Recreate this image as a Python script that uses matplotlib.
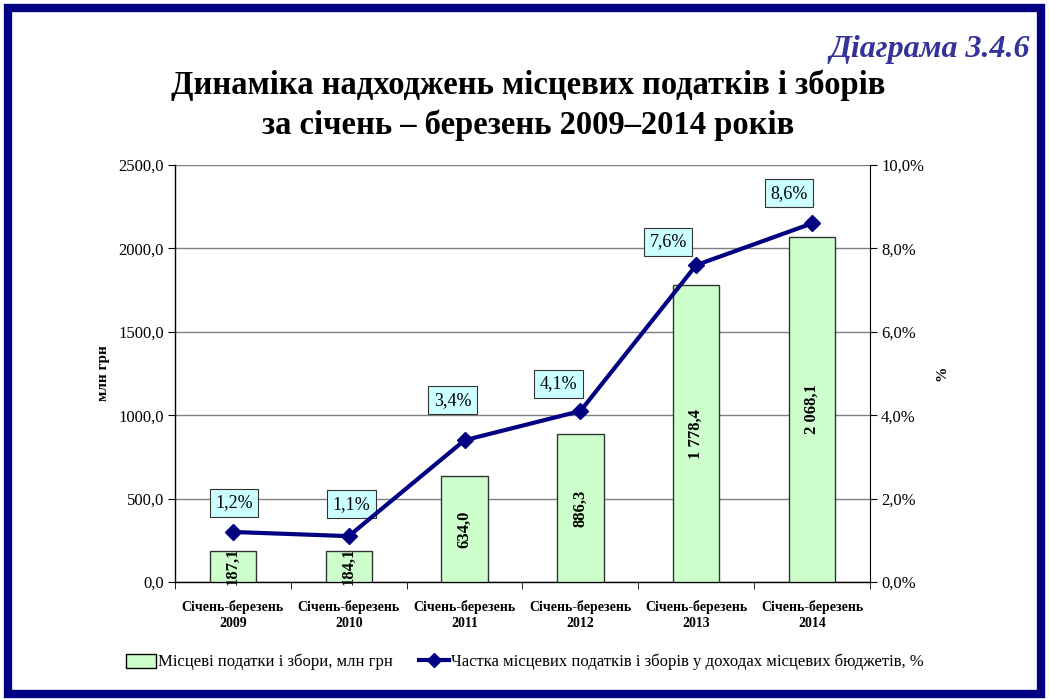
import matplotlib
matplotlib.use("Agg")
import matplotlib.pyplot as plt
from matplotlib.patches import Rectangle
from matplotlib.lines import Line2D
import numpy as np

categories = ["Січень-березень\n2009", "Січень-березень\n2010", "Січень-березень\n2011",
              "Січень-березень\n2012", "Січень-березень\n2013", "Січень-березень\n2014"]
amounts = [187.1, 184.1, 634.0, 886.3, 1778.4, 2068.1]
amount_labels = ["187,1", "184,1", "634,0", "886,3", "1 778,4", "2 068,1"]
shares = [1.2, 1.1, 3.4, 4.1, 7.6, 8.6]
left_ticks = [0, 500, 1000, 1500, 2000, 2500]
right_ticks = [0, 2, 4, 6, 8, 10]

# manual label offsets (pixels), styling only
label_dx = [1, 3, -12, -22, -28, -23]
label_dy = [29, 32, 40, 27, 23, 30]

plt.rcParams['font.family'] = ['Liberation Serif', 'DejaVu Serif']

W, H = 1050, 699
fig = plt.figure(figsize=(W / 100, H / 100), dpi=100)

# frame
fig.patches.append(Rectangle((8 / W, 5 / H), 1033 / W, 686 / H, transform=fig.transFigure,
                             fill=False, edgecolor='#000080', linewidth=6))

ax = fig.add_axes([175 / W, (H - 582) / H, 695 / W, 417 / H])
ax2 = ax.twinx()

x = np.arange(len(categories))
ax.bar(x, amounts, width=0.4, color='#CCFFCC', edgecolor='#333333', linewidth=1, zorder=3)
for xi, v, lab in zip(x, amounts, amount_labels):
    ax.text(xi, v / 2, lab, rotation=90, ha='center', va='center', fontsize=12,
            fontweight='bold', zorder=4)

ax.set_xlim(-0.5, len(categories) - 0.5)
ax.set_ylim(0, 2500)
ax.set_yticks(left_ticks)
ax.set_yticklabels([f"{t:.1f}".replace('.', ',') for t in left_ticks], fontsize=12)
ax.yaxis.grid(True, color='#808080', linewidth=1, zorder=0)
ax.set_axisbelow(True)
ax.set_xticks(x)
ax.set_xticklabels(categories, fontsize=10, fontweight='bold', linespacing=1.3)
ax.set_xticks(np.arange(len(categories) + 1) - 0.5, minor=True)
ax.tick_params(axis='x', which='major', length=0, pad=13)
ax.tick_params(axis='x', which='minor', length=5, direction='out')
ax.tick_params(axis='y', length=5, direction='out', pad=3)
ax.spines['top'].set_visible(False)
ax.spines['right'].set_visible(False)
ax.spines['left'].set_linewidth(1)
ax.spines['bottom'].set_linewidth(1)
ax.set_ylabel("млн грн", fontsize=11, fontweight='bold', labelpad=6)

ax2.plot(x, shares, color='#000080', linewidth=3, marker='D', markersize=8, zorder=5)
ax2.set_ylim(0, 10)
ax2.set_yticks(right_ticks)
ax2.set_yticklabels([f"{t:.1f}%".replace('.', ',') for t in right_ticks], fontsize=12)
ax2.tick_params(axis='y', length=5, direction='out', pad=3)
ax2.spines['top'].set_visible(False)
ax2.spines['left'].set_visible(False)
ax2.spines['bottom'].set_visible(False)
ax2.set_ylabel("%", fontsize=11, fontweight='bold', labelpad=8)
for xi, v, dx, dy in zip(x, shares, label_dx, label_dy):
    ax2.annotate(f"{v:.1f}%".replace('.', ','), (xi, v), xytext=(dx, dy), textcoords='offset pixels',
                 ha='center', va='center', fontsize=13,
                 bbox=dict(boxstyle='square,pad=0.3', facecolor='#CCFFFF', edgecolor='#333333', linewidth=0.8))

fig.text(1030 / W, 1 - 49 / H, "Діаграма 3.4.6", ha='right', va='center', fontsize=23,
         fontweight='bold', fontstyle='italic', color='#333399')
fig.text(528 / W, 1 - 85 / H, "Динаміка надходжень місцевих податків і зборів", ha='center',
         va='center', fontsize=23.5, fontweight='bold')
fig.text(528 / W, 1 - 125 / H, "за січень – березень 2009–2014 років", ha='center',
         va='center', fontsize=23.5, fontweight='bold')

handles = [Rectangle((0, 0), 1, 1, facecolor='#CCFFCC', edgecolor='black', linewidth=1),
           Line2D([], [], color='#000080', linewidth=3, marker='D', markersize=7)]
fig.legend(handles, ["Місцеві податки і збори, млн грн",
                     "Частка місцевих податків і зборів у доходах місцевих бюджетів, %"],
           loc='center', bbox_to_anchor=(525 / W, 1 - 662 / H), ncol=2, frameon=False,
           fontsize=12, handlelength=1.8, handleheight=0.9, handletextpad=0.1, columnspacing=1.6)

fig.savefig("out.png", dpi=100)
